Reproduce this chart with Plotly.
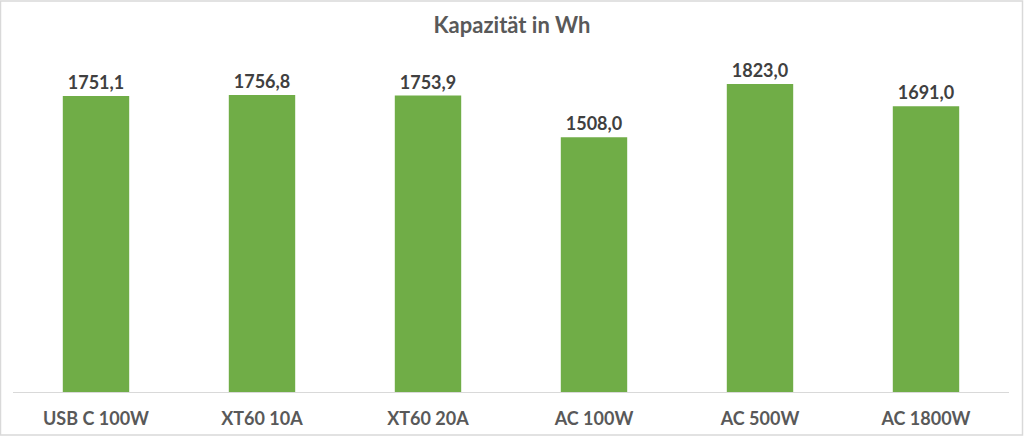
import plotly.graph_objects as go

categories = ["USB C 100W", "XT60 10A", "XT60 20A", "AC 100W", "AC 500W", "AC 1800W"]
values = [1751.1, 1756.8, 1753.9, 1508.0, 1823.0, 1691.0]

fig = go.Figure(go.Bar(
    x=categories, y=values,
    marker=dict(color="#70AD47", line=dict(width=0)),
    texttemplate="%{y:.1f}", textposition="outside",
    textfont=dict(family="Lato", size=18, color="#404040", weight="bold"),
    cliponaxis=False,
))

fig.update_layout(
    width=1024, height=441,
    margin=dict(l=13, r=15, t=54, b=46),
    paper_bgcolor="white", plot_bgcolor="white",
    separators=",.",
    bargap=0.6,
    showlegend=False,
    title=dict(text="<b>Kapazität in Wh</b>", x=0.5, xanchor="center", y=0.943, yanchor="middle",
               font=dict(family="Lato", size=22, color="#595959")),
    xaxis=dict(showline=True, linecolor="#D9D9D9", linewidth=1, ticks="",
               ticklabelstandoff=10,
               tickfont=dict(family="Lato", size=18, color="#595959", weight="bold")),
    yaxis=dict(range=[0, 2000], visible=False, showgrid=False),
    shapes=[dict(type="rect", xref="paper", yref="paper", x0=-12.5/996, x1=1+13.5/996,
                 y0=-43.5/341, y1=1+53.5/341, line=dict(color="#D9D9D9", width=1.5))],
)

fig.write_html("out.html", config={"displayModeBar": False},
               post_script="document.body.style.margin='0';")
